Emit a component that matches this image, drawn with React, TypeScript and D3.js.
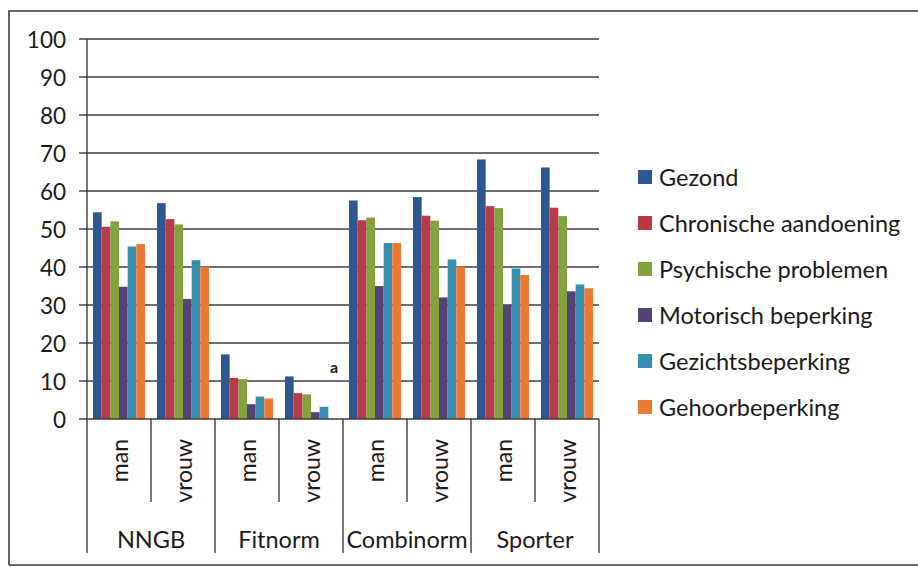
import * as d3 from 'd3';

// sub categories (man / vrouw) inside each group
const groups = ['NNGB', 'Fitnorm', 'Combinorm', 'Sporter'];
const sexes = ['man', 'vrouw'];
const seriesNames = [
  'Gezond',
  'Chronische aandoening',
  'Psychische problemen',
  'Motorisch beperking',
  'Gezichtsbeperking',
  'Gehoorbeperking',
];
const seriesColors = ['#2d5890', '#bb3947', '#82a23c', '#574276', '#378daf', '#ec7832'];

// values per series, order: NNGB man, NNGB vrouw, Fitnorm man, Fitnorm vrouw, Combinorm man, Combinorm vrouw, Sporter man, Sporter vrouw
const gezond = [54.4, 56.8, 17.0, 11.2, 57.5, 58.4, 68.3, 66.2];
const chronisch = [50.6, 52.6, 10.8, 6.8, 52.3, 53.5, 56.0, 55.6];
const psychisch = [52.0, 51.2, 10.5, 6.5, 53.0, 52.2, 55.5, 53.4];
const motorisch = [34.8, 31.6, 3.9, 1.8, 35.0, 32.0, 30.0, 33.6];
const gezicht = [45.4, 41.8, 5.9, 3.2, 46.3, 42.0, 39.6, 35.4];
const gehoor = [46.0, 40.0, 5.4, 0, 46.3, 40.1, 37.9, 34.4];
const allSeries = [gezond, chronisch, psychisch, motorisch, gezicht, gehoor];

const yTicks = [0, 10, 20, 30, 40, 50, 60, 70, 80, 90, 100];

const font = 'Lato, "Open Sans", sans-serif';

export default function App() {
  const W = 918;
  const H = 567;
  const left = 87;
  const right = 599;
  const top = 39;
  const bottom = 419;

  const cats = groups.flatMap((g) => sexes.map((s) => `${g}|${s}`));
  const x = d3.scaleBand<string>().domain(cats).range([left, right]).paddingInner(0).paddingOuter(0);
  const inner = d3
    .scaleBand<number>()
    .domain(d3.range(seriesNames.length))
    .range([6, x.bandwidth() - 6])
    .padding(0);
  const y = d3.scaleLinear().domain([0, 100]).range([bottom, top]);

  const groupW = x.bandwidth() * sexes.length;

  return (
    <svg
      width={W}
      height={H}
      style={{ position: 'absolute', left: 0, top: 0, background: '#fff' }}
      fontFamily={font}
    >
      {/* outer frame */}
      <path d={`M9,565 L9,11 L918,11`} fill="none" stroke="#3a3a3a" strokeWidth={1.6} />
      <line x1={9} x2={918} y1={565} y2={565} stroke="#3a3a3a" strokeWidth={1.6} />

      {/* gridlines + y ticks */}
      {yTicks.map((t) => (
        <g key={t}>
          {t > 0 && (
            <line x1={left} x2={right} y1={y(t)} y2={y(t)} stroke="#3c3c3c" strokeWidth={1.4} />
          )}
          <line x1={left - 8} x2={left} y1={y(t)} y2={y(t)} stroke="#3c3c3c" strokeWidth={1.4} />
          <text
            x={66}
            y={y(t)}
            textAnchor="end"
            dominantBaseline="central"
            fontSize={22.5}
            fill="#1a1a1a"
          >
            {t}
          </text>
        </g>
      ))}

      {/* bars */}
      {allSeries.map((vals, si) => (
        <g key={si} fill={seriesColors[si]}>
          {vals.map((v, ci) => (
            <rect
              key={ci}
              x={(x(cats[ci]) as number) + (inner(si) as number)}
              y={y(v)}
              width={inner.bandwidth()}
              height={y(0) - y(v)}
            />
          ))}
        </g>
      ))}

      {/* missing value note */}
      <text x={334} y={366} textAnchor="middle" dominantBaseline="central" fontSize={16} fontWeight="bold" fill="#222">
        a
      </text>

      {/* axes */}
      <line x1={left} x2={left} y1={top} y2={553} stroke="#3c3c3c" strokeWidth={1.4} />
      <line x1={left} x2={right} y1={bottom} y2={bottom} stroke="#3c3c3c" strokeWidth={1.4} />
      {cats.map((c, i) => {
        const x0 = x(c) as number;
        const isGroupEnd = i % 2 === 1;
        return (
          <g key={c}>
            <line
              x1={x0 + x.bandwidth()}
              x2={x0 + x.bandwidth()}
              y1={bottom}
              y2={isGroupEnd ? 553 : 502}
              stroke="#3c3c3c"
              strokeWidth={1.4}
            />
            <text
              transform={`translate(${x0 + x.bandwidth() / 2},439) rotate(-90)`}
              textAnchor="end"
              dominantBaseline="central"
              fontSize={23}
              fill="#1a1a1a"
            >
              {c.split('|')[1]}
            </text>
          </g>
        );
      })}
      {groups.map((g, gi) => (
        <text
          key={g}
          x={left + gi * groupW + groupW / 2}
          y={539}
          textAnchor="middle"
          dominantBaseline="central"
          fontSize={23.5}
          fill="#1a1a1a"
        >
          {g}
        </text>
      ))}

      {/* legend */}
      {seriesNames.map((n, i) => {
        const ly = 177 + i * 46;
        return (
          <g key={n}>
            <rect x={638} y={ly - 7} width={14} height={14} fill={seriesColors[i]} />
            <text x={659} y={ly} dominantBaseline="central" fontSize={23.5} fill="#1a1a1a">
              {n}
            </text>
          </g>
        );
      })}
    </svg>
  );
}
